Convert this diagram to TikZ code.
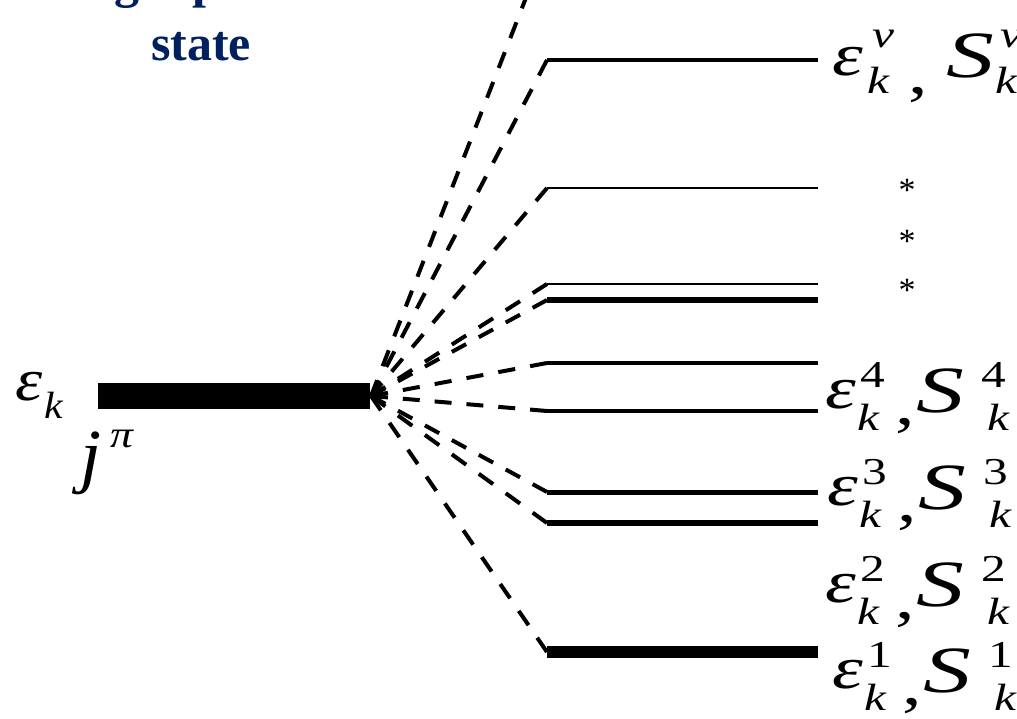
\documentclass[tikz,border=0pt]{standalone}
\usepackage{fontspec}
\usepackage{graphicx}
\setmainfont{Liberation Serif}
\definecolor{navy}{RGB}{0,32,96}
\newcommand\wx[1]{\scalebox{1.3}[1]{#1}}
\newcommand\wS{\scalebox{1.45}[1]{\fontsize{66}{66}\selectfont S}}
\newcommand\rowlab[4]{%
  \node[bigm] (#1e) at (#2,#3) {\wx{ε}};
  \node[scrm] (#1es) at ({#2+35},{#3-21}) {\wx{\upshape #4}};
  \node[scrm] (#1ek) at ({#2+32},{#3+22}) {\wx{k}};
  \node[bigm] (#1c) at ({#2+70},{#3+16}) {\wx{\upshape ,}};
  \node[bigm] (#1S) at ({#2+91},{#3+4}) {\wS};
  \node[scrm] (#1Ss) at ({#2+156},{#3-21}) {\wx{\upshape #4}};
  \node[scrm] (#1Sk) at ({#2+162},{#3+22}) {\wx{k}};
}
\begin{document}
\begin{tikzpicture}[x=1pt,y=-1pt,
  every node/.style={inner sep=0pt,outer sep=0pt},
  bigm/.style={anchor=base west,font=\fontsize{60}{60}\selectfont\itshape},
  scrm/.style={anchor=base west,font=\fontsize{38}{38}\selectfont\itshape},
  title/.style={anchor=base,font=\fontsize{50}{50}\selectfont\bfseries,text=navy},
  star/.style={anchor=base,font=\fontsize{34}{34}\selectfont},
  dline/.style={line width=4pt}]
\useasboundingbox (0,0) rectangle (1017,718);
\clip (0,0) rectangle (1017,718);
% title (cut off at the top)
\node[title] (t1) at (201,-3) {Single-particle};
\node[title] (t2) at (201,60) {state};
% initial state bar
\coordinate (b1) at (98,396);
\coordinate (b2) at (370,396);
\draw[line width=26pt] (b1) -- (b2);
\coordinate (o) at (371,396);
% left labels
\node[bigm] (eps) at (15,400) {\scalebox{1.15}[1]{ε}};
\node[scrm] (epsk) at (44,418) {\scalebox{1.1}[1]{k}};
\node[anchor=base west,font=\fontsize{72}{72}\selectfont\itshape] (jj) at (80,479) {\scalebox{1.05}[1]{j}};
\node[scrm] (jpi) at (110,447) {\scalebox{1.2}[1]{π}};
% levels and dashed connectors
\foreach \n/\y/\w in {nu/60/4,a/188/2.5,b/284/2.5,c/300/6,d/363/4.5,e/411/4,f/492/5,g/523/6.5,h/652/12}{
  \coordinate (L\n) at (547,\y);
  \coordinate (R\n) at (818,\y);
  \draw[line width=\w pt] (L\n) -- (R\n);
  \pgfmathsetmacro\len{veclen(547-371,\y-396)}
  \pgfmathsetmacro\kk{round((\len-17)/32)}
  \pgfmathsetmacro\ss{\len/(32*\kk+17)}
  \pgfmathsetmacro\don{17*\ss}
  \pgfmathsetmacro\doff{15*\ss}
  \draw[dline,dash pattern=on \don pt off \doff pt] (o) -- (L\n);
}
\coordinate (top) at (529,-10);
\draw[dline,dash pattern=on 17pt off 15pt] (o) -- (top);
% stars
\node[star] (s1) at (907,201) {*};
\node[star] (s2) at (907,252) {*};
\node[star] (s3) at (907,301) {*};
% level labels
\rowlab{r4}{825}{408}{4}
\rowlab{r3}{827}{505}{3}
\rowlab{r2}{825}{602}{2}
\rowlab{r1}{832}{688}{1}
% nu row
\node[bigm] (rne) at (832,75) {\wx{ε}};
\node[scrm] (rnes) at (872,47) {\wx{ν}};
\node[scrm] (rnek) at (867,93) {\wx{k}};
\node[bigm] (rnc) at (908,93) {\wx{\upshape ,}};
\node[bigm] (rnS) at (946,77) {\wS};
\node[scrm] (rnSs) at (1000,47) {\wx{ν}};
\node[scrm] (rnSk) at (995,93) {\wx{k}};
\end{tikzpicture}
\end{document}
